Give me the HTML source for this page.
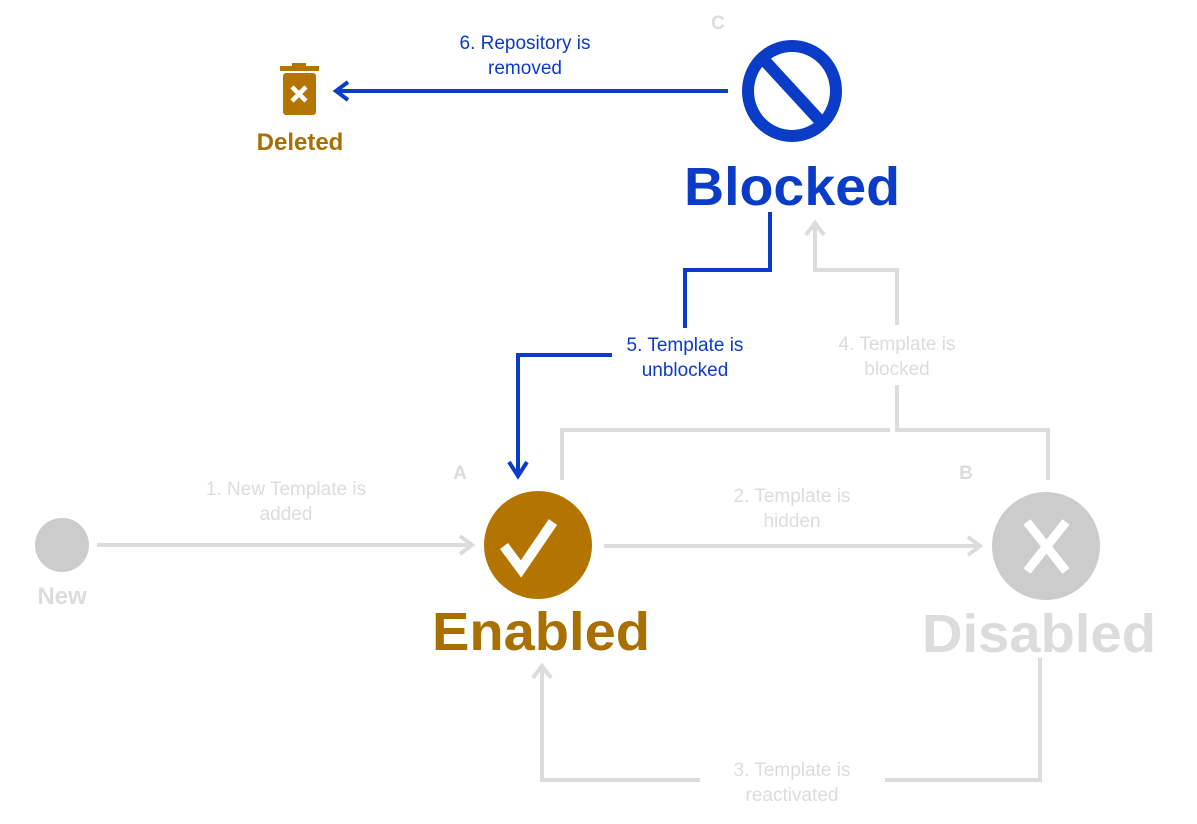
<!DOCTYPE html>
<html><head><meta charset="utf-8"><style>
html,body{margin:0;padding:0;background:#fff;}
svg{display:block;}
</style></head><body>
<svg width="1197" height="824" viewBox="0 0 1197 824" xmlns="http://www.w3.org/2000/svg" font-family="Liberation Sans, Arial, sans-serif">
<!-- Deleted icon -->
<rect x="280" y="66" width="39" height="5" fill="#b37400"/>
<rect x="292" y="63" width="14" height="4" fill="#b37400"/>
<rect x="283" y="73" width="33" height="42" rx="3" fill="#b37400"/>
<path d="M292 87 L306 101 M306 87 L292 101" stroke="#fff" stroke-width="4.5"/>
<text x="300" y="150" text-anchor="middle" font-size="24" font-weight="bold" fill="#a87000">Deleted</text>

<!-- Arrow 6 -->
<line x1="728" y1="91" x2="338" y2="91" stroke="#0a3cc8" stroke-width="4"/>
<path d="M348 82 L336 91 L348 100" fill="none" stroke="#0a3cc8" stroke-width="4"/>
<text x="525" y="49" text-anchor="middle" font-size="19" fill="#0a3cc8">6. Repository is</text>
<text x="525" y="74" text-anchor="middle" font-size="19" fill="#0a3cc8">removed</text>

<!-- Blocked -->
<text x="718" y="29" text-anchor="middle" font-size="19" font-weight="bold" fill="#dcdcdc">C</text>
<ellipse cx="792" cy="91" rx="44" ry="45" fill="none" stroke="#0a3cc8" stroke-width="12"/>
<line x1="764" y1="60" x2="822" y2="123" stroke="#0a3cc8" stroke-width="12"/>
<text x="792" y="205" text-anchor="middle" font-size="54" font-weight="bold" fill="#0a3cc8" textLength="216" lengthAdjust="spacingAndGlyphs">Blocked</text>

<!-- Grey connectors -->
<g fill="none" stroke="#dcdcdc" stroke-width="4">
<path d="M97 545 L470 545"/><path d="M460 536 L472 545 L460 554"/>
<path d="M604 546 L978 546"/><path d="M968 537 L980 546 L968 555"/>
<path d="M562 480 L562 430 L890 430"/>
<path d="M1048 480 L1048 430 L897 430 L897 385"/>
<path d="M897 325 L897 270 L815 270 L815 225"/><path d="M806 235 L815 223 L824 235"/>
<path d="M1040 658 L1040 780 L885 780"/>
<path d="M700 780 L542 780 L542 668"/><path d="M533 678 L542 666 L551 678"/>
</g>
<g font-size="19" fill="#dcdcdc" text-anchor="middle">
<text x="286" y="495">1. New Template is</text><text x="286" y="520">added</text>
<text x="792" y="502">2. Template is</text><text x="792" y="527">hidden</text>
<text x="897" y="350">4. Template is</text><text x="897" y="375">blocked</text>
<text x="792" y="776">3. Template is</text><text x="792" y="801">reactivated</text>
</g>

<!-- Blue connector 5 -->
<g fill="none" stroke="#0a3cc8" stroke-width="4">
<path d="M770 212 L770 270 L685 270 L685 328"/>
<path d="M612 355 L518 355 L518 476"/>
<path d="M509 462 L518 476 L527 462"/>
</g>
<text x="685" y="351" text-anchor="middle" font-size="19" fill="#0a3cc8">5. Template is</text>
<text x="685" y="376" text-anchor="middle" font-size="19" fill="#0a3cc8">unblocked</text>

<!-- New -->
<circle cx="62" cy="545" r="27" fill="#cccccc"/>
<text x="62" y="604" text-anchor="middle" font-size="24" font-weight="bold" fill="#dcdcdc">New</text>

<!-- Enabled -->
<text x="460" y="479" text-anchor="middle" font-size="19" font-weight="bold" fill="#dcdcdc">A</text>
<ellipse cx="538" cy="545" rx="54" ry="54" fill="#b37400"/>
<path d="M504 546 L521 569 L553 522" fill="none" stroke="#fff" stroke-width="10"/>
<text x="541" y="650" text-anchor="middle" font-size="54" font-weight="bold" fill="#a87000" textLength="218" lengthAdjust="spacingAndGlyphs">Enabled</text>

<!-- Disabled -->
<text x="966" y="479" text-anchor="middle" font-size="19" font-weight="bold" fill="#dcdcdc">B</text>
<ellipse cx="1046" cy="546" rx="54" ry="54" fill="#cccccc"/>
<path d="M1027 522 L1066 571 M1066 522 L1027 571" stroke="#fff" stroke-width="9"/>
<text x="1039" y="652" text-anchor="middle" font-size="54" font-weight="bold" fill="#dcdcdc" textLength="234" lengthAdjust="spacingAndGlyphs">Disabled</text>
</svg>
</body></html>
